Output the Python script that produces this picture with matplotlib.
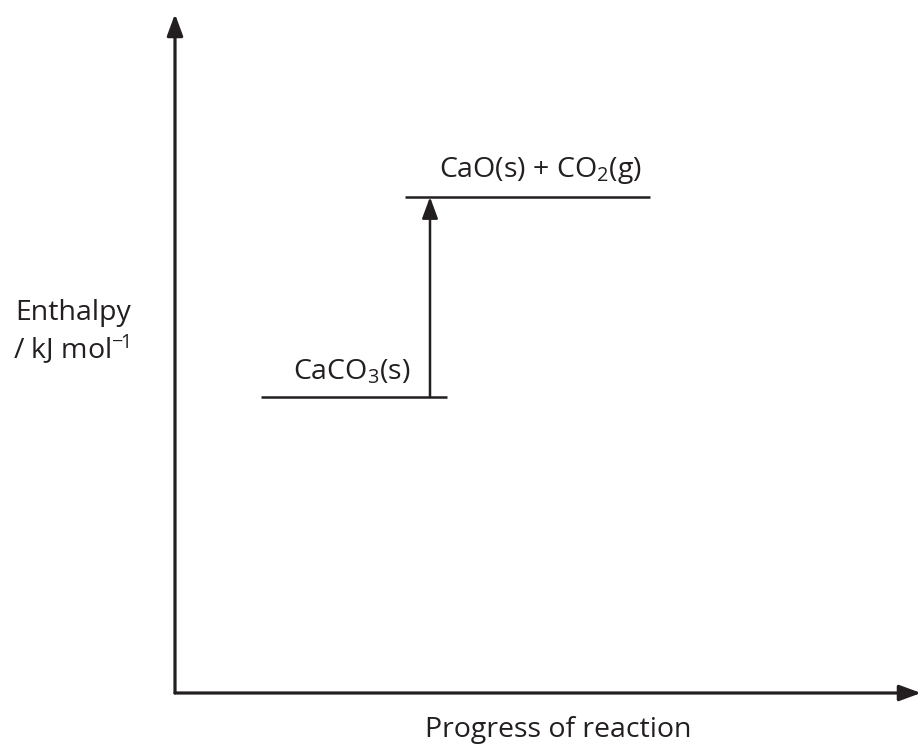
import matplotlib.pyplot as plt
from matplotlib.patches import FancyArrowPatch

INK = "#231f20"

# enthalpy levels (arbitrary units, progress axis 0..746, enthalpy axis 0..679)
level_names = ["CaCO$_{\\mathrm{3}}$(s)", "CaO(s) + CO$_{\\mathrm{2}}$(g)"]
level_enthalpy = [296, 496]
level_start = [86, 230]
level_end = [272, 475]
label_progress = [177, 366]
arrow_progress = 255
x_max = 746
y_max = 679

plt.rcParams.update(
    {
        "font.family": ["Open Sans", "DejaVu Sans"],
        "mathtext.fontset": "custom",
        "mathtext.rm": "Open Sans",
        "mathtext.it": "Open Sans",
        "mathtext.bf": "Open Sans",
    }
)


def arrow(ax, start, end, lw, scale=20.0):
    ax.add_patch(
        FancyArrowPatch(
            start,
            end,
            arrowstyle="-|>,head_length=0.65,head_width=0.24",
            mutation_scale=scale,
            linewidth=lw,
            color=INK,
            shrinkA=0,
            shrinkB=0,
            clip_on=False,
            zorder=3,
        )
    )


fig = plt.figure(figsize=(9.21, 7.47), dpi=100)
ax = fig.add_axes([175 / 921, 54 / 747, 746 / 921, 679 / 747])
ax.set_xlim(0, x_max)
ax.set_ylim(0, y_max)
ax.axis("off")

# axes
arrow(ax, (0, 0), (0, y_max), 2.3)
arrow(ax, (0, 0), (x_max, 0), 2.3)

# levels
for name, h, x0, x1, lx in zip(level_names, level_enthalpy, level_start, level_end, label_progress):
    ax.plot([x0, x1], [h, h], color=INK, linewidth=1.8, solid_capstyle="butt")
    ax.text(lx, h + 11, name, ha="center", va="bottom", fontsize=20.5, color=INK)

# enthalpy change arrow
arrow(ax, (arrow_progress, level_enthalpy[0]), (arrow_progress, level_enthalpy[1]), 1.8)

fig.text(73 / 921, 1 - 313 / 747, "Enthalpy", ha="center", va="center", fontsize=20.5, color=INK)
fig.text(71 / 921, 1 - 349 / 747, "/ kJ mol$^{\\mathrm{\u2212\\!1}}$", ha="center", va="center", fontsize=20.5, color=INK)
fig.text(558 / 921, 1 - 730 / 747, "Progress of reaction", ha="center", va="center", fontsize=20.5, color=INK)

fig.savefig("out.png", dpi=100)
